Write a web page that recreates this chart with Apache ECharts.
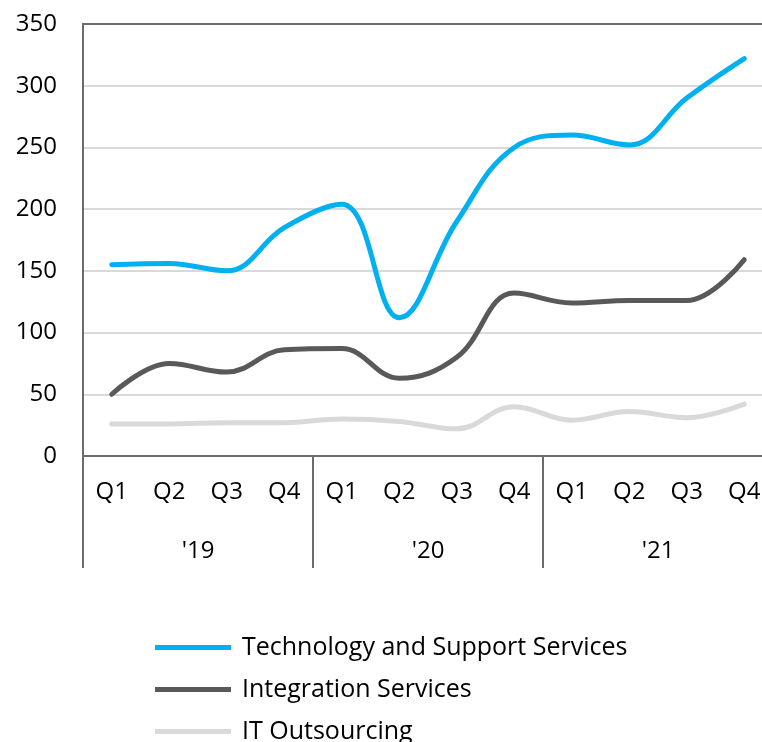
<!DOCTYPE html>
<html>
<head>
<meta charset="utf-8">
<script src="https://cdn.jsdelivr.net/npm/echarts@6/dist/echarts.min.js"></script>
<style>html,body{margin:0;padding:0;background:#fff;overflow:hidden}#c{width:774px;height:742px}</style>
</head>
<body>
<div id="c"></div>
<script>
const quarters = ['Q1','Q2','Q3','Q4','Q1','Q2','Q3','Q4','Q1','Q2','Q3','Q4'];
const years = ["'19","'20","'21"];
const yTicks = [0,50,100,150,200,250,300,350];
const techSupport = [155,156,150,185,204,112,190,250,260,252,290,322];
const integration = [50,75,68,86,87,63,80,132,124,126,126,159];
const itOutsourcing = [26,26,27,27,30,28,22,40,29,36,31,42];

const FONT = 'Open Sans';
const chart = echarts.init(document.getElementById('c'), null, {renderer:'canvas'});
chart.setOption({
  animation:false,
  textStyle:{fontFamily:FONT},
  grid:{left:83, right:1, top:24, height:432, containLabel:false},
  legend:{
    orient:'vertical', left:150, top:630, height:300, itemGap:17, itemWidth:76, itemHeight:5,
    textStyle:{fontFamily:FONT, fontSize:25, color:'#000', padding:[0,0,0,6]},
    icon:'rect',
    data:['Technology and Support Services','Integration Services','IT Outsourcing']
  },
  xAxis:[
    {type:'category', data:quarters, position:'bottom', boundaryGap:true,
     axisLine:{show:true, lineStyle:{color:'#6b6b6b', width:2}},
     axisTick:{show:false},
     axisLabel:{fontFamily:FONT, fontSize:24, color:'#000', margin:24, interval:0}},
    {type:'category', data:years, position:'bottom', boundaryGap:true,
     axisLine:{show:false},
     axisTick:{show:true, length:112, interval:0, lineStyle:{color:'#6b6b6b', width:2}},
     axisLabel:{fontFamily:FONT, fontSize:24, color:'#000', margin:83, interval:0}},
    {type:'category', data:quarters, position:'top', boundaryGap:true,
     axisLine:{show:true, lineStyle:{color:'#6b6b6b', width:2}},
     axisTick:{show:false}, axisLabel:{show:false}}
  ],
  yAxis:{
    type:'value', min:yTicks[0], max:yTicks[yTicks.length-1], interval:50,
    axisLine:{show:true, lineStyle:{color:'#6b6b6b', width:2}},
    axisTick:{show:false},
    splitLine:{show:true, lineStyle:{color:'#d9d9d9', width:2}},
    axisLabel:{fontFamily:FONT, fontSize:24, color:'#000', margin:26}
  },
  series:[
    {name:'Technology and Support Services', type:'line', xAxisIndex:0, data:techSupport, smooth:0.4,
     symbol:'none', lineStyle:{color:'#00b0f0', width:5, cap:'round'}, itemStyle:{color:'#00b0f0'}, z:4},
    {name:'Integration Services', type:'line', xAxisIndex:0, data:integration, smooth:0.4,
     symbol:'none', lineStyle:{color:'#595959', width:5, cap:'round'}, itemStyle:{color:'#595959'}, z:3},
    {name:'IT Outsourcing', type:'line', xAxisIndex:0, data:itOutsourcing, smooth:0.4,
     symbol:'none', lineStyle:{color:'#d9d9d9', width:5, cap:'round'}, itemStyle:{color:'#d9d9d9'}, z:2}
  ]
});
</script>
</body>
</html>
